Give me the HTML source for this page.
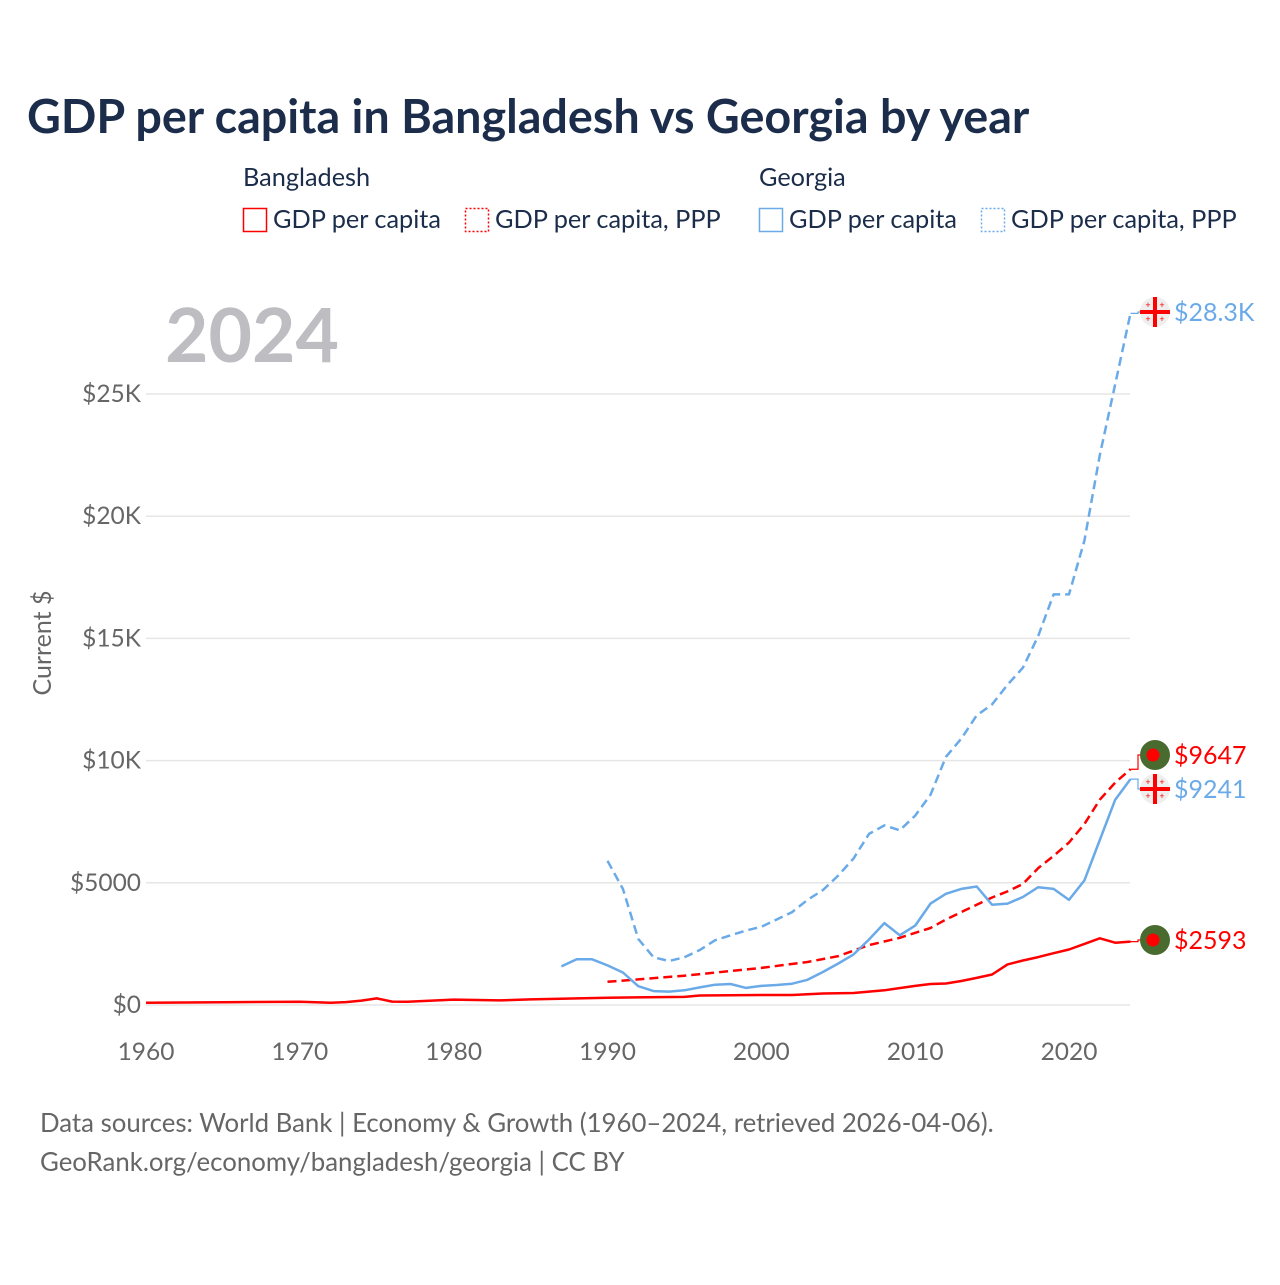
<!DOCTYPE html>
<html><head><meta charset="utf-8"><style>
body{margin:0;background:#fff;font-family:"Liberation Sans",sans-serif;}
svg text{font-family:"Lato","Liberation Sans",sans-serif;}
</style></head><body>
<svg width="1280" height="1280" viewBox="0 0 1280 1280" xmlns="http://www.w3.org/2000/svg">
<rect width="1280" height="1280" fill="#fff"/>
<text x="27" y="133" font-size="46.7" font-weight="bold" fill="#1b2d4a">GDP per capita in Bangladesh vs Georgia by year</text>
<g font-size="25.3" fill="#1b2d4a">
<text x="243" y="186">Bangladesh</text>
<text x="759" y="186">Georgia</text>
<g><rect x="243.5" y="208.5" width="23" height="23" fill="none" stroke="#ff0000" stroke-width="1.5"/><text x="273" y="228">GDP per capita</text></g>
<g><rect x="465.5" y="208.5" width="23" height="23" fill="none" stroke="#ff0000" stroke-width="1.5" stroke-dasharray="2 2"/><text x="495" y="228">GDP per capita, PPP</text></g>
<g><rect x="759.5" y="208.5" width="23" height="23" fill="none" stroke="#6aaae8" stroke-width="1.5"/><text x="789" y="228">GDP per capita</text></g>
<g><rect x="981.5" y="208.5" width="23" height="23" fill="none" stroke="#6aaae8" stroke-width="1.5" stroke-dasharray="2 2"/><text x="1011" y="228">GDP per capita, PPP</text></g>
</g>
<text x="165" y="362" font-size="75" font-weight="bold" fill="#bdbdc2">2024</text>
<text transform="translate(51,643) rotate(-90)" text-anchor="middle" font-size="25" fill="#666">Current $</text>
<g id="grid"></g><g id="yticks"></g><g id="xticks"></g><g id="lines"></g><g id="ends"></g>
<text x="40" y="1132" font-size="25.8" fill="#666">Data sources: World Bank | Economy &amp; Growth (1960–2024, retrieved 2026-04-06).</text>
<text x="40" y="1171" font-size="25.8" fill="#666">GeoRank.org/economy/bangladesh/georgia | CC BY</text>
</svg>
<script>
const bdGdpYears=[1960,1965,1970,1972,1973,1974,1975,1976,1977,1980,1983,1985,1990,1995,1996,2000,2002,2004,2006,2008,2010,2011,2012,2013,2014,2015,2016,2017,2018,2019,2020,2021,2022,2023,2024];
const bdGdp=[90,110,135,95,120,180,270,140,130,220,190,230,300,330,390,410,410,470,490,600,780,860,880,980,1110,1250,1660,1820,1960,2120,2270,2500,2730,2550,2593];
const bdPppYears=[1990,1995,2000,2003,2005,2007,2009,2011,2012,2013,2014,2015,2016,2017,2018,2019,2020,2021,2022,2023,2024];
const bdPpp=[950,1200,1520,1760,2000,2450,2750,3150,3500,3800,4100,4400,4650,4950,5600,6100,6650,7400,8400,9100,9647];
const geYears=[1987,1988,1989,1990,1991,1992,1993,1994,1995,1996,1997,1998,1999,2000,2001,2002,2003,2004,2005,2006,2007,2008,2009,2010,2011,2012,2013,2014,2015,2016,2017,2018,2019,2020,2021,2022,2023,2024];
const geGdp=[1580,1870,1870,1620,1330,770,570,550,600,720,830,860,700,780,820,870,1030,1350,1700,2070,2680,3350,2850,3250,4150,4550,4750,4850,4100,4150,4420,4820,4750,4300,5100,6750,8400,9241];
const gePppYears=[1990,1991,1992,1993,1994,1995,1996,1997,1998,1999,2000,2001,2002,2003,2004,2005,2006,2007,2008,2009,2010,2011,2012,2013,2014,2015,2016,2017,2018,2019,2020,2021,2022,2023,2024];
const gePpp=[5900,4750,2700,1950,1800,1950,2250,2650,2850,3050,3200,3500,3800,4300,4700,5300,6000,7000,7350,7150,7750,8600,10150,10900,11850,12300,13100,13800,15100,16800,16800,19000,22500,25400,28300];
const yTicks=[0,5000,10000,15000,20000,25000];
const yTickLabels=["$0","$5000","$10K","$15K","$20K","$25K"];
const xTicks=[1960,1970,1980,1990,2000,2010,2020];
const endVals=[28300,9647,9241,2593];
const endLabels=["$28.3K","$9647","$9241","$2593"];
const endFlags=["ge","bd","ge","bd"];
const endColors=["#6aaae8","#ff0000","#6aaae8","#ff0000"];
const endLabelY=[312,755,789,940];
const NS="http://www.w3.org/2000/svg";
const x=y=>146+(y-1960)*(1069-146)/60;
const yv=v=>1005-v*(1005-394)/25000;
function mk(tag,attrs,parent){const e=document.createElementNS(NS,tag);for(const k in attrs)e.setAttribute(k,attrs[k]);document.getElementById(parent).appendChild(e);return e;}
yTicks.forEach((t,i)=>{
 const l=mk('line',{x1:146,x2:1130,y1:yv(t),y2:yv(t),stroke:'#e6e6e6','stroke-width':1.5},'grid');
 
 
 const tx=mk('text',{x:141,y:yv(t)+8,'text-anchor':'end','font-size':24.5,fill:'#666'},'yticks');
 tx.textContent=yTickLabels[i];
 
 
});
xTicks.forEach(t=>{
 const tx=mk('text',{x:x(t),y:1060,'text-anchor':'middle','font-size':24.5,fill:'#666'},'xticks');
 tx.textContent=t;
 
 
});
function line(xs,vs,color,dash,name){
 const d=xs.map((yr,i)=>(i?'L':'M')+x(yr).toFixed(1)+','+yv(vs[i]).toFixed(1)).join('');
 const p=mk('path',{d:d,fill:'none',stroke:color,'stroke-width':2.5,'stroke-dasharray':dash,'stroke-linejoin':'round'},'lines');
 
 
}
line(bdGdpYears,bdGdp,'#ff0000','none','line-bangladesh-gdp');
line(bdPppYears,bdPpp,'#ff0000','9 5','line-bangladesh-ppp');
line(geYears,geGdp,'#6aaae8','none','line-georgia-gdp');
line(gePppYears,gePpp,'#6aaae8','9 5','line-georgia-ppp');
endVals.forEach((v,i)=>{
 const ly=endLabelY[i], c=endColors[i];
 const ld=mk('path',{d:`M${x(2024)},${yv(v)}L1138,${yv(v)}L1138,${ly}L1143,${ly}`,fill:'none',stroke:c,'stroke-width':1.2},'ends');
 
 
 const g=mk('g',{},'ends');
 
 
 const cx=1155;
 if(endFlags[i]==='bd'){
  const c0=document.createElementNS(NS,'circle');c0.setAttribute('cx',cx);c0.setAttribute('cy',ly);c0.setAttribute('r',15);c0.setAttribute('fill','#4a6b2f');g.appendChild(c0);
  const d=document.createElementNS(NS,'circle');d.setAttribute('cx',cx-2);d.setAttribute('cy',ly);d.setAttribute('r',6.5);d.setAttribute('fill','#ff0000');g.appendChild(d);
 } else {
  const c1=document.createElementNS(NS,'circle');c1.setAttribute('cx',cx);c1.setAttribute('cy',ly);c1.setAttribute('r',15);c1.setAttribute('fill','#eeeeee');g.appendChild(c1);
  const r1=document.createElementNS(NS,'rect');r1.setAttribute('x',cx-15);r1.setAttribute('y',ly-2);r1.setAttribute('width',30);r1.setAttribute('height',4);r1.setAttribute('fill','#ff0000');g.appendChild(r1);
  const r2=document.createElementNS(NS,'rect');r2.setAttribute('x',cx-2);r2.setAttribute('y',ly-15);r2.setAttribute('width',4);r2.setAttribute('height',30);r2.setAttribute('fill','#ff0000');g.appendChild(r2);
  [[-7,-7],[7,-7],[-7,7],[7,7]].forEach(o=>{const s=document.createElementNS(NS,'text');s.setAttribute('x',cx+o[0]);s.setAttribute('y',ly+o[1]+3);s.setAttribute('font-size',9);s.setAttribute('text-anchor','middle');s.setAttribute('fill','#ff0000');s.textContent='+';g.appendChild(s);});
 }
 const t=mk('text',{x:1174,y:ly+9,'font-size':25,fill:c},'ends');
 t.textContent=endLabels[i];
 
 
});
</script>
</body></html>
